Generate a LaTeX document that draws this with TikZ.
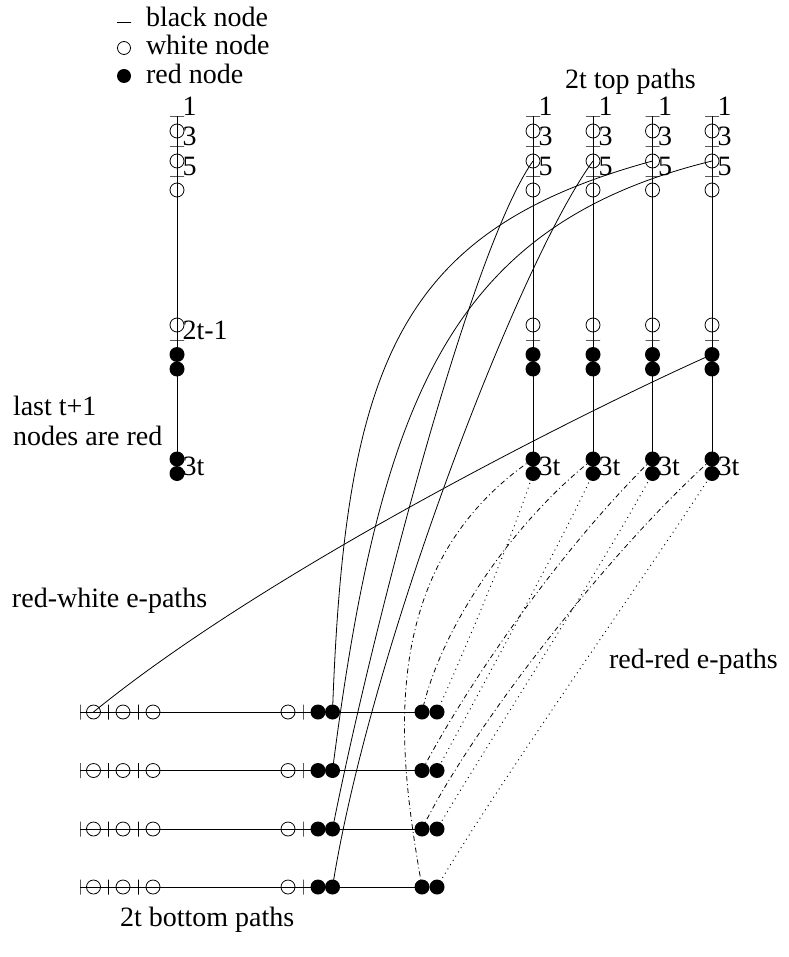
\documentclass[tikz,border=0pt]{standalone}
\usepackage{fontspec}
\setmainfont{Liberation Serif}
\usetikzlibrary{backgrounds}
\begin{document}
\begin{tikzpicture}[x=1pt,y=-1pt,
  every node/.style={inner sep=0pt, outer sep=0pt},
  wnode/.style={circle, draw, minimum size=14pt, line width=0.8pt},
  rnode/.style={circle, fill, minimum size=15pt},
  htick/.style={rectangle, draw, minimum width=14pt, minimum height=0pt, line width=0.8pt},
  vtick/.style={rectangle, draw, minimum height=15pt, minimum width=0pt, line width=0.8pt},
  lbl/.style={anchor=base west, font=\fontsize{28}{32}\selectfont},
  conn/.style={line width=0.8pt},
  ddot/.style={line width=0.8pt, dash pattern=on 5pt off 3pt on 1pt off 3pt},
  dotl/.style={line width=0.9pt, dash pattern=on 1pt off 4pt},
]
\useasboundingbox (0,0) rectangle (788,957);

% legend
\node[htick] (sym1) at (124,22.5) {};
\node[wnode, minimum size=13pt] (sym2) at (124,48) {};
\node[rnode, minimum size=14pt] (sym3) at (124,76) {};
\node[lbl] (leg1) at (146,26.5) {black node};
\node[lbl] (leg2) at (146,55) {white node};
\node[lbl] (leg3) at (146,83.5) {red node};

% vertical paths
\foreach \n/\x in {a/177, c1/533, c2/593, c3/652.5, c4/712}{
  \node[htick] (\n-t1) at (\x,116) {};
  \node[wnode] (\n-w1) at (\x,131) {};
  \node[htick] (\n-t2) at (\x,146) {};
  \node[wnode] (\n-w2) at (\x,161) {};
  \node[htick] (\n-t3) at (\x,176) {};
  \node[wnode] (\n-w3) at (\x,190) {};
  \node[wnode] (\n-w4) at (\x,325) {};
  \node[htick] (\n-t4) at (\x,340) {};
  \node[rnode] (\n-r1) at (\x,354.5) {};
  \node[rnode] (\n-r2) at (\x,369) {};
  \node[rnode] (\n-r3) at (\x,459) {};
  \node[rnode] (\n-r4) at (\x,473.5) {};
  \node[lbl] (\n-l1) at (\x+5.5,116) {1};
  \node[lbl] (\n-l3) at (\x+5.5,146) {3};
  \node[lbl] (\n-l5) at (\x+5.5,176) {5};
  \node[lbl] (\n-l3t) at (\x+5.5,475) {3t};
  \begin{scope}[on background layer]
    \draw[conn] (\n-t1.center) -- (\n-r4.center);
  \end{scope}
}
\node[lbl] (a-l2t) at (182.5,339) {2t-1};

% bottom paths
\foreach \r/\y in {b1/712, b2/770.5, b3/829, b4/887}{
  \node[vtick] (\r-t1) at (80,\y) {};
  \node[wnode] (\r-w1) at (93.5,\y) {};
  \node[vtick] (\r-t2) at (108.5,\y) {};
  \node[wnode] (\r-w2) at (123,\y) {};
  \node[vtick] (\r-t3) at (138.5,\y) {};
  \node[wnode] (\r-w3) at (153,\y) {};
  \node[wnode] (\r-w4) at (288,\y) {};
  \node[vtick] (\r-t4) at (303,\y) {};
  \node[rnode] (\r-r1) at (318,\y) {};
  \node[rnode] (\r-r2) at (332.5,\y) {};
  \node[rnode] (\r-r3) at (422,\y) {};
  \node[rnode] (\r-r4) at (437,\y) {};
  \begin{scope}[on background layer]
    \draw[conn] (\r-t1.center) -- (\r-r3.center);
  \end{scope}
}

\begin{scope}[on background layer]
  % top circle 5 to bottom red paths
  \draw[conn] (c3-w2.center) .. controls (400,230) and (345,360) .. (b1-r2.center);
  \draw[conn] (c4-w2.center) .. controls (450,225) and (380,400) .. (b2-r2.center);
  \draw[conn] (c1-w2.center) .. controls (470,250) and (370,640) .. (b3-r2.center);
  \draw[conn] (c2-w2.center) .. controls (520,260) and (370,650) .. (b4-r2.center);
  % red-white e-path
  \draw[conn] (b1-w1.center) .. controls (280,560) and (620,395) .. (c4-r1.center);
  % red-red e-paths
  \draw[ddot] (c1-r3.center) .. controls (370,570) and (400,760) .. (b4-r3.center);
  \draw[ddot] (c2-r3.center) .. controls (510,525) and (440,630) .. (b1-r3.center);
  \draw[ddot] (c3-r3.center) .. controls (560,550) and (470,680) .. (b2-r3.center);
  \draw[ddot] (c4-r3.center) .. controls (610,550) and (470,730) .. (b3-r3.center);
  \draw[dotl] (c1-r4.center) .. controls (515,530) and (465,650) .. (b1-r4.center);
  \draw[dotl] (c2-r4.center) .. controls (560,545) and (480,690) .. (b2-r4.center);
  \draw[dotl] (c3-r4.center) .. controls (600,570) and (490,740) .. (b3-r4.center);
  \draw[dotl] (c4-r4.center) .. controls (650,570) and (500,780) .. (b4-r4.center);
\end{scope}

% texts
\node[lbl] (toptitle) at (565,89) {2t top paths};
\node[lbl] (lastA) at (13,415) {last t+1};
\node[lbl] (lastB) at (13,445) {nodes are red};
\node[lbl] (rw) at (12,607) {red-white e-paths};
\node[lbl] (rr) at (609,668) {red-red e-paths};
\node[lbl] (bt) at (120,926) {2t bottom paths};
\end{tikzpicture}
\end{document}
